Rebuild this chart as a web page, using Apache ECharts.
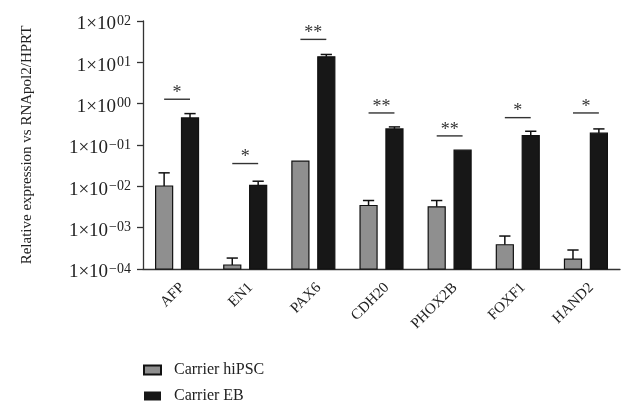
<!DOCTYPE html>
<html>
<head>
<meta charset="utf-8">
<script src="https://cdn.jsdelivr.net/npm/echarts@6/dist/echarts.min.js"></script>
<style>html,body{margin:0;padding:0;background:#fff;}#c{width:624px;height:406px;}</style>
</head>
<body>
<div id="c"></div>
<script>
const categories = ['AFP', 'EN1', 'PAX6', 'CDH20', 'PHOX2B', 'FOXF1', 'HAND2'];
const hipscValues = [0.0102, 0.000125, 0.0406, 0.00344, 0.0032, 0.000386, 0.000174];
const hipscErrTop = [0.0212, 0.000184, null, 0.00454, 0.00454, 0.000627, 0.000288];
const ebValues = [0.452, 0.0105, 13.6, 0.245, 0.0748, 0.169, 0.193];
const ebErrTop = [0.575, 0.0133, 15.5, 0.274, null, 0.215, 0.245];
const sigMarks = ['*', '*', '**', '**', '**', '*', '*'];
const sigLevels = [1.28, 0.0356, 35.9, 0.596, 0.166, 0.459, 0.596];
const yTicks = [1e-4, 1e-3, 1e-2, 1e-1, 1e0, 1e1, 1e2];
const seriesNames = ['Carrier hiPSC', 'Carrier EB'];

const FONT = "'Liberation Serif', 'Times New Roman', serif";
const Y_MIN = yTicks[0], Y_MAX = yTicks[yTicks.length - 1];
const GRAY = '#8f8f8f', BLACK = '#171717';

function barRenderer(side, fill) {
  return function (params, api) {
    const i = api.value(0), v = api.value(1), e = api.value(2);
    const bw = api.size([1, 1])[0];
    const w = bw * 0.25;
    const off = side * bw * 0.19;
    const top = api.coord([i, v]);
    const base = api.coord([i, Y_MIN]);
    const cx = top[0] + off;
    const children = [];
    if (e != null && !isNaN(e)) {
      const et = api.coord([i, e]);
      children.push({ type: 'line', shape: { x1: cx, y1: top[1], x2: cx, y2: et[1] }, style: { stroke: '#111', lineWidth: 1.5 } });
      children.push({ type: 'line', shape: { x1: cx - w * 0.33, y1: et[1], x2: cx + w * 0.33, y2: et[1] }, style: { stroke: '#111', lineWidth: 1.5 } });
    }
    children.push({ type: 'rect', shape: { x: cx - w / 2, y: top[1], width: w, height: base[1] - top[1] },
      style: { fill: fill, stroke: '#111', lineWidth: 1.2 } });
    return { type: 'group', children: children };
  };
}

function sigRenderer(params, api) {
  const i = api.value(0), lv = api.value(1);
  const bw = api.size([1, 1])[0];
  const p = api.coord([i, lv]);
  const half = bw * 0.19;
  return { type: 'group', children: [
    { type: 'line', shape: { x1: p[0] - half, y1: p[1], x2: p[0] + half, y2: p[1] }, style: { stroke: '#333', lineWidth: 1.4 } },
    { type: 'text', x: p[0], y: p[1] - 6, style: { text: sigMarks[params.dataIndex], font: "18px " + FONT, fill: '#333', align: 'center', verticalAlign: 'middle' } }
  ] };
}

function fmtTick(v) {
  const ex = Math.round(Math.log10(v));
  const s = (ex < 0 ? '\u2212' : '') + String(Math.abs(ex)).padStart(2, '0');
  return '{a|1\u00d710}{b|' + s + '}';
}

const chart = echarts.init(document.getElementById('c'), null, { renderer: 'canvas' });
chart.setOption({
  animation: false,
  backgroundColor: '#fff',
  textStyle: { fontFamily: FONT },
  grid: { left: 143, right: 4, top: 21, bottom: 137, containLabel: false },
  legend: {
    orient: 'vertical', left: 143, top: 362, padding: 0, height: 44, icon: 'rect', itemWidth: 17, itemHeight: 9, itemGap: 10,
    textStyle: { fontFamily: FONT, fontSize: 16, color: '#222', lineHeight: 16, padding: [0, 0, 0, 8] },
    data: seriesNames
  },
  xAxis: {
    type: 'category', data: categories,
    axisLine: { lineStyle: { color: '#333', width: 1.3 } },
    axisTick: { alignWithLabel: true, length: 6, lineStyle: { color: '#333', width: 1.3 } },
    axisLabel: { rotate: 45, margin: 11, verticalAlign: 'top', fontFamily: FONT, fontSize: 15, color: '#222', interval: 0 }
  },
  yAxis: {
    type: 'log', logBase: 10, min: Y_MIN, max: Y_MAX, interval: 1,
    name: 'Relative expression vs RNApol2/HPRT', nameLocation: 'middle', nameGap: 108,
    nameTextStyle: { fontFamily: FONT, fontSize: 15, color: '#222' },
    axisLine: { show: true, lineStyle: { color: '#333', width: 1.3 } },
    axisTick: { show: true, length: 6, lineStyle: { color: '#333', width: 1.3 } },
    splitLine: { show: false },
    minorTick: { show: false },
    axisLabel: {
      margin: 12, formatter: fmtTick, padding: [6, 0, 0, 0],
      rich: {
        a: { fontFamily: FONT, fontSize: 19, color: '#222', lineHeight: 20, verticalAlign: 'bottom' },
        b: { fontFamily: FONT, fontSize: 14, color: '#222', lineHeight: 20, verticalAlign: 'top', padding: [0, 0, 8, 1] }
      }
    }
  },
  series: [
    { type: 'custom', name: seriesNames[0], renderItem: barRenderer(-1, GRAY), itemStyle: { color: GRAY, borderColor: '#111', borderWidth: 1 },
      encode: { x: 0, y: 1 }, data: categories.map((c, i) => [i, hipscValues[i], hipscErrTop[i] == null ? NaN : hipscErrTop[i]]) },
    { type: 'custom', name: seriesNames[1], renderItem: barRenderer(1, BLACK), itemStyle: { color: BLACK },
      encode: { x: 0, y: 1 }, data: categories.map((c, i) => [i, ebValues[i], ebErrTop[i] == null ? NaN : ebErrTop[i]]) },
    { type: 'custom', name: 'sig', renderItem: sigRenderer, encode: { x: 0, y: 1 }, silent: true,
      data: categories.map((c, i) => [i, sigLevels[i]]) }
  ]
});
</script>
</body>
</html>
